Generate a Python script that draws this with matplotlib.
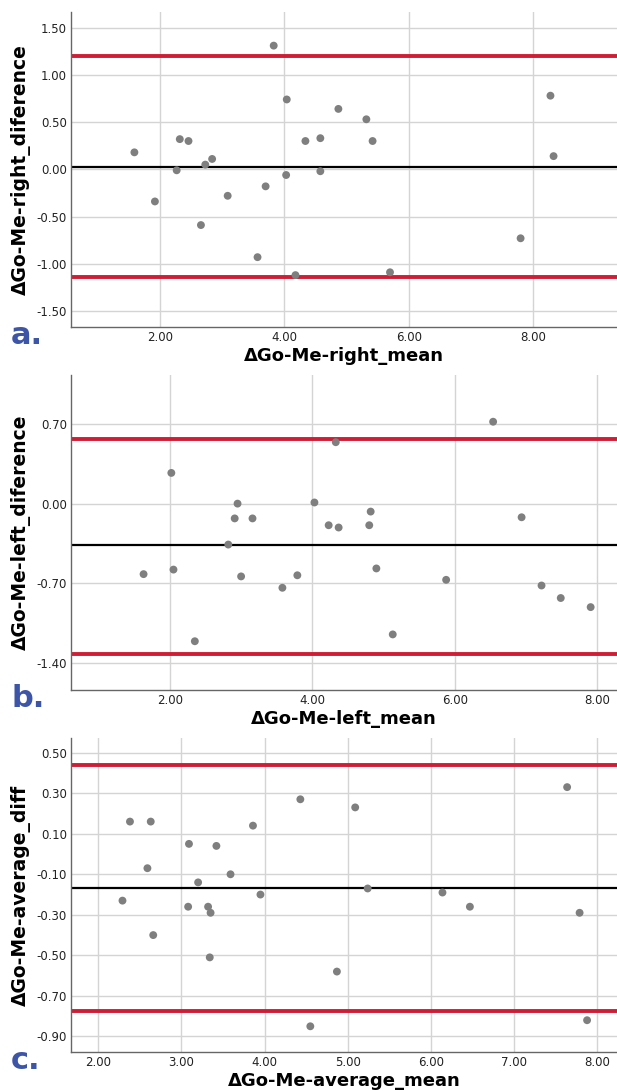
import numpy as np
import matplotlib
matplotlib.use("Agg")
import matplotlib.pyplot as plt

# panel a: right side
right_mean = [1.59, 1.92, 2.27, 2.32, 2.46, 2.66, 2.73, 2.84, 3.09, 3.57, 3.70, 3.83, 4.03,
              4.04, 4.18, 4.34, 4.58, 4.58, 4.87, 5.32, 5.42, 5.70, 7.80, 8.28, 8.33]
right_diff = [0.18, -0.34, -0.01, 0.32, 0.30, -0.59, 0.05, 0.11, -0.28, -0.93, -0.18, 1.31, -0.06,
              0.74, -1.12, 0.30, 0.33, -0.02, 0.64, 0.53, 0.30, -1.09, -0.73, 0.78, 0.14]
right_lines = [1.20, 0.023, -1.143]

# panel b: left side
left_mean = [1.63, 2.02, 2.05, 2.35, 2.82, 2.91, 2.95, 3.00, 3.16, 3.58, 3.79, 4.03, 4.23,
             4.33, 4.37, 4.80, 4.82, 4.90, 5.13, 5.88, 6.54, 6.94, 7.22, 7.49, 7.91]
left_diff = [-0.62, 0.27, -0.58, -1.21, -0.36, -0.13, 0.00, -0.64, -0.13, -0.74, -0.63, 0.01, -0.19,
             0.54, -0.21, -0.19, -0.07, -0.57, -1.15, -0.67, 0.72, -0.12, -0.72, -0.83, -0.91]
left_lines = [0.57, -0.36, -1.32]

# panel c: average
avg_mean = [2.29, 2.38, 2.59, 2.63, 2.66, 3.08, 3.09, 3.20, 3.32, 3.34, 3.35, 3.42, 3.59,
            3.86, 3.95, 4.43, 4.55, 4.87, 5.09, 5.24, 6.14, 6.47, 7.64, 7.79, 7.88]
avg_diff = [-0.23, 0.16, -0.07, 0.16, -0.40, -0.26, 0.05, -0.14, -0.26, -0.51, -0.29, 0.04, -0.10,
            0.14, -0.20, 0.27, -0.85, -0.58, 0.23, -0.17, -0.19, -0.26, 0.33, -0.29, -0.82]
avg_lines = [0.44, -0.168, -0.777]

panels = [
    ("a.", right_mean, right_diff, right_lines, "ΔGo-Me-right_mean", "ΔGo-Me-right_diference",
     [2, 4, 6, 8], [-1.5, -1.0, -0.5, 0.0, 0.5, 1.0, 1.5], (0.57, 9.35), (-1.67, 1.666)),
    ("b.", left_mean, left_diff, left_lines, "ΔGo-Me-left_mean", "ΔGo-Me-left_diference",
     [2, 4, 6, 8], [-1.4, -0.7, 0.0, 0.7], (0.61, 8.28), (-1.64, 1.13)),
    ("c.", avg_mean, avg_diff, avg_lines, "ΔGo-Me-average_mean", "ΔGo-Me-average_diff",
     [2, 3, 4, 5, 6, 7, 8], [-0.9, -0.7, -0.5, -0.3, -0.1, 0.1, 0.3, 0.5], (1.67, 8.24), (-0.977, 0.572)),
]

# axes boxes in figure fractions [left, bottom, width, height]
boxes = [[0.115, 0.7005, 0.885, 0.2885],
         [0.115, 0.368, 0.885, 0.2885],
         [0.115, 0.0366, 0.885, 0.2875]]

fig = plt.figure(figsize=(6.17, 10.92), dpi=100)

for (letter, xm, yd, lines, xlab, ylab, xt, yt, xl, yl), box in zip(panels, boxes):
    ax = fig.add_axes(box)
    ax.set_xlim(xl)
    ax.set_ylim(yl)
    ax.set_xticks(xt)
    ax.set_yticks(yt)
    ax.set_xticklabels([f"{v:.2f}" for v in xt])
    ax.set_yticklabels([f"{v:.2f}" for v in yt])
    ax.grid(True, color="#d4d4d4", lw=1.0)
    ax.set_axisbelow(True)
    for s in ["top", "right"]:
        ax.spines[s].set_visible(False)
    for s in ["left", "bottom"]:
        ax.spines[s].set_color("#666666")
        ax.spines[s].set_linewidth(1.0)
    ax.tick_params(length=0, labelsize=8.5, pad=3, colors="#222222")
    ax.axhline(lines[0], color="#d01c35", lw=2.8, zorder=2)
    ax.axhline(lines[2], color="#d01c35", lw=2.8, zorder=2)
    ax.axhline(lines[1], color="black", lw=1.6, zorder=2)
    ax.scatter(xm, yd, s=32, color="#7f7f7f", edgecolors="none", zorder=3)
    ax.set_xlabel(xlab, fontsize=13, fontweight="bold", labelpad=2)
    ax.set_ylabel(ylab, fontsize=13.5, fontweight="bold", labelpad=4)
    pos = ax.get_position()
    fig.text(0.018, pos.y0 - 17 / 1092, letter, fontsize=22, fontweight="bold", color="#3d55a6",
             va="baseline", ha="left")

fig.savefig("out.png", dpi=100)
